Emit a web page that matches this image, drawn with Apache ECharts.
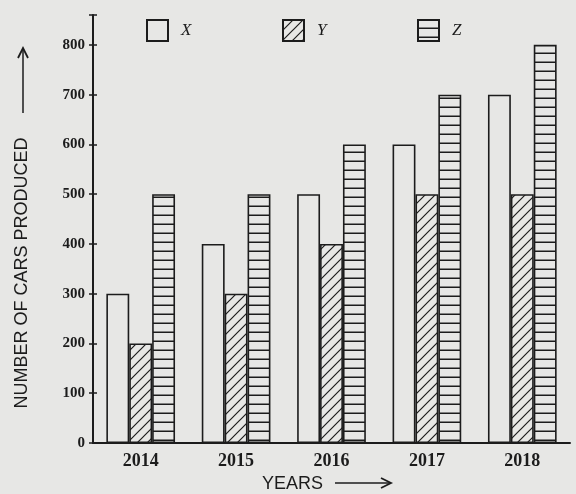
<!DOCTYPE html>
<html>
<head>
<meta charset="utf-8">
<script src="https://cdn.jsdelivr.net/npm/echarts@6/dist/echarts.min.js"></script>
<style>
html,body{margin:0;padding:0;background:#e7e7e5;}
#c{width:576px;height:494px;}
</style>
</head>
<body>
<div id="c"></div>
<script>
const categories = ['2014', '2015', '2016', '2017', '2018'];
const seriesNames = ['X', 'Y', 'Z'];
const valuesX = [300, 400, 500, 600, 700];
const valuesY = [200, 300, 400, 500, 500];
const valuesZ = [500, 500, 600, 700, 800];
const yTicks = [0, 100, 200, 300, 400, 500, 600, 700, 800];

const BG = '#e7e7e5';
const INK = '#1c1c1c';

function diagPattern() {
  const c = document.createElement('canvas');
  c.width = 10; c.height = 10;
  const g = c.getContext('2d');
  g.fillStyle = BG; g.fillRect(0, 0, 10, 10);
  g.strokeStyle = INK; g.lineWidth = 1.2;
  g.beginPath();
  g.moveTo(0, 10); g.lineTo(10, 0);
  g.moveTo(-5, 5); g.lineTo(5, -5);
  g.moveTo(5, 15); g.lineTo(15, 5);
  g.stroke();
  return c;
}
function horizPattern() {
  const c = document.createElement('canvas');
  c.width = 10; c.height = 9;
  const g = c.getContext('2d');
  g.fillStyle = BG; g.fillRect(0, 0, 10, 9);
  g.fillStyle = INK; g.fillRect(0, 7.5, 10, 1.6);
  return c;
}

const fills = [BG, { image: diagPattern(), repeat: 'repeat' }, { image: horizPattern(), repeat: 'repeat' }];
const dataSets = [valuesX, valuesY, valuesZ];

const chart = echarts.init(document.getElementById('c'));
const legendLefts = [141, 277, 412];

const option = {
  backgroundColor: BG,
  animation: false,
  grid: { left: 93, right: 6, top: 15, bottom: 51, containLabel: false, outerBoundsMode: 'none' },
  legend: seriesNames.map((n, i) => ({
    data: [n],
    left: legendLefts[i],
    top: 14,
    icon: 'rect',
    itemWidth: 21,
    itemHeight: 21,
    selectedMode: false,
    textStyle: { fontFamily: 'Liberation Serif', fontStyle: 'italic', fontSize: 17, color: INK, padding: [0, 0, 0, 8] }
  })),
  xAxis: {
    type: 'category',
    data: categories,
    name: 'YEARS',
    nameLocation: 'middle',
    nameGap: 32,
    nameTextStyle: { fontFamily: 'Liberation Sans', fontSize: 18, color: INK, padding: [0, 78, 0, 0] },
    axisLine: { lineStyle: { color: INK, width: 2 } },
    axisTick: { show: false },
    axisLabel: { fontFamily: 'Liberation Serif', fontWeight: 'bold', fontSize: 18, color: INK, margin: 9 }
  },
  yAxis: [{
    type: 'value',
    min: 0, max: 860, interval: 100,
    name: 'NUMBER OF CARS PRODUCED',
    nameLocation: 'middle',
    nameGap: 62,
    nameTextStyle: { fontFamily: 'Liberation Sans', fontSize: 18, color: INK, padding: [0, 88, 0, 0] },
    axisLine: { show: true, lineStyle: { color: INK, width: 2 } },
    axisTick: { show: true, length: 4, lineStyle: { color: INK, width: 1.5 } },
    splitLine: { show: false },
    axisLabel: {
      fontFamily: 'Liberation Serif', fontWeight: 'bold', fontSize: 15, color: INK, margin: 8,
      formatter: v => (yTicks.indexOf(v) >= 0 ? String(v) : '')
    }
  }, {
    type: 'value',
    position: 'left',
    min: 0, max: 860, interval: 100,
    axisLine: { show: false },
    axisTick: { show: true, inside: true, length: 4, lineStyle: { color: INK, width: 1.5 } },
    axisLabel: { show: false },
    splitLine: { show: false }
  }],
  series: seriesNames.map((n, i) => ({
    name: n,
    type: 'bar',
    yAxisIndex: 0,
    data: dataSets[i],
    barGap: '0%',
    barCategoryGap: '28%',
    itemStyle: { color: fills[i], borderColor: INK, borderWidth: 1.6 }
  })),
  graphic: [
    { type: 'line', shape: { x1: 335, y1: 483, x2: 390, y2: 483 }, style: { stroke: INK, lineWidth: 1.5 } },
    { type: 'polyline', shape: { points: [[381, 478], [391, 483], [381, 488]] }, style: { stroke: INK, lineWidth: 1.8, fill: null } },
    { type: 'line', shape: { x1: 23, y1: 113, x2: 23, y2: 50 }, style: { stroke: INK, lineWidth: 1.5 } },
    { type: 'polyline', shape: { points: [[18, 58], [23, 48], [28, 58]] }, style: { stroke: INK, lineWidth: 1.8, fill: null } }
  ]
};
chart.setOption(option);
</script>
</body>
</html>
